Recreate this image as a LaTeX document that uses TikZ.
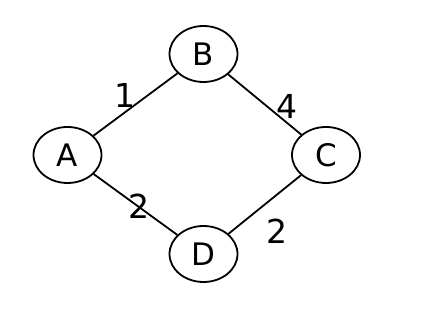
\documentclass[tikz,border=0pt]{standalone}
\usepackage{fontspec}
\setmainfont{DejaVu Sans}
\usetikzlibrary{shapes.geometric}
\tikzset{
  every picture/.style={line width=1.8pt, x=1pt, y=1pt},
  vertex/.style={draw=black, ellipse, minimum width=68pt, minimum height=56pt, inner sep=0pt, font=\fontsize{31}{31}\selectfont},
  weight/.style={font=\fontsize{33}{33}\selectfont, inner sep=0pt},
  edge/.style={draw=black},
}
\begin{document}
\begin{tikzpicture}
  \useasboundingbox (0,0) rectangle (432,328);
  \node[vertex] (A) at (67.5,173) {A};
  \node[vertex] (B) at (203.5,274) {B};
  \node[vertex] (C) at (326,173) {C};
  \node[vertex] (D) at (203.5,74) {D};
  \draw[edge] (A) -- (B); \draw[edge] (B) -- (C);
  \draw[edge] (A) -- (D); \draw[edge] (D) -- (C);
  \node[weight] (wab) at (125,233) {1};
  \node[weight] (wbc) at (287,222) {4};
  \node[weight] (wad) at (139,122) {2};
  \node[weight] (wdc) at (277,97) {2};
\end{tikzpicture}
\end{document}
